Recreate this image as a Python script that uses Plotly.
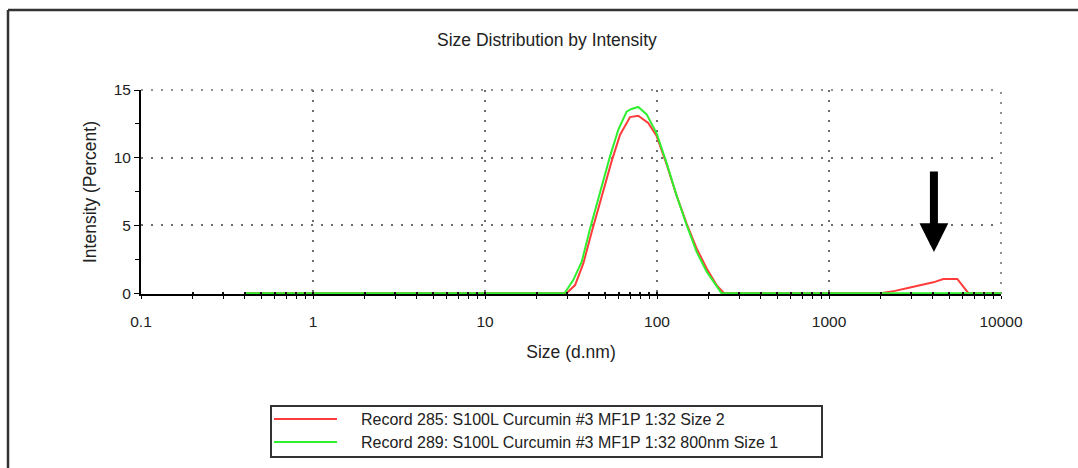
import plotly.graph_objects as go

# ---------------- data ----------------
red_name = "Record 285: S100L Curcumin #3 MF1P 1:32 Size 2"
green_name = "Record 289: S100L Curcumin #3 MF1P 1:32 800nm Size 1"

red_size = [0.4, 29.8, 33.4, 37.3, 41.7, 47.7, 54.5, 61.0, 69.7, 77.8, 88.9, 99.5,
            113.8, 130, 149, 170, 194.5, 222, 245, 2000, 2420, 2960, 4045, 4620,
            5570, 6460, 10000]
red_int = [0, 0, 0.6, 2.2, 4.5, 7.2, 9.75, 11.7, 13.0, 13.1, 12.56, 11.6,
           9.5, 7.2, 5.1, 3.3, 1.83, 0.6, 0, 0, 0.17, 0.42, 0.8, 1.05,
           1.05, 0, 0]

green_size = [0.4, 29.0, 32.6, 36.5, 40.8, 46.6, 53.3, 59.6, 66.6, 71.0, 77.8, 87.1,
              99.5, 113.8, 130, 149, 170, 194.5, 222, 237, 10000]
green_int = [0, 0, 0.97, 2.32, 4.75, 7.44, 10.1, 12.07, 13.4, 13.6, 13.75, 13.2,
             11.8, 9.6, 7.2, 5.0, 3.05, 1.59, 0.49, 0, 0]

x_tickvals = [0.1, 1, 10, 100, 1000, 10000]
x_ticktext = ["0.1", "1", "10", "100", "1000", "10000"]
y_tickvals = [0, 5, 10, 15]

# ---------------- layout helpers ----------------
W, H = 1078, 468
L, R, T, B = 141, 1001, 90, 294   # plot area in pixels


def px(x):
    return (x - L) / (R - L)


def py(y):
    return (B - y) / (B - T)


FONT = "Liberation Sans, Arial, sans-serif"
TXT = "#222222"
RED = "#ff3b3b"
GREEN = "#2ef02e"
GRID = "#6e6e6e"
GRID_DASH = "2px,8px"
TICK_FS = 15.5
TITLE_FS = 17.5
LEG_FS = 16

fig = go.Figure()
fig.add_trace(go.Scatter(x=red_size, y=red_int, mode="lines", name=red_name,
                         line=dict(color=RED, width=2), showlegend=False))
fig.add_trace(go.Scatter(x=green_size, y=green_int, mode="lines", name=green_name,
                         line=dict(color=GREEN, width=2), showlegend=False))
# empty trace so the overlaying tick-only axis is drawn
fig.add_trace(go.Scatter(x=[], y=[], xaxis="x2", mode="lines", showlegend=False,
                         hoverinfo="skip"))

fig.update_layout(
    width=W, height=H,
    margin=dict(l=L, r=W - R, t=T, b=H - B),
    paper_bgcolor="white", plot_bgcolor="white",
    font=dict(family=FONT, color=TXT, size=TICK_FS),
    showlegend=False,
)

fig.update_layout(
    xaxis=dict(
        type="log", range=[-1, 4],
        tickvals=x_tickvals, ticktext=x_ticktext,
        showline=True, linecolor="black", linewidth=2,
        ticks="outside", ticklen=3, tickcolor="black", tickwidth=1,
        ticklabelstandoff=9,
        tickfont=dict(size=TICK_FS, color=TXT),
        showgrid=True, gridcolor=GRID, gridwidth=1.5, griddash=GRID_DASH,
        minor=dict(ticks="outside", ticklen=3, tickcolor="black", dtick="D1", showgrid=False),
        zeroline=False, layer="below traces",
        title=dict(text="Size (d.nm)", font=dict(size=TITLE_FS, color=TXT), standoff=17),
    ),
    xaxis2=dict(
        type="log", range=[-1, 4], overlaying="x", side="bottom",
        tickvals=x_tickvals, showticklabels=False,
        showline=False, showgrid=False, zeroline=False,
        ticks="inside", ticklen=2, tickcolor="#111111", tickwidth=1.5,
        minor=dict(ticks="inside", ticklen=2, tickcolor="#111111", tickwidth=1.5,
                   dtick="D1", showgrid=False),
        layer="above traces",
    ),
    yaxis=dict(
        range=[-0.06, 15],
        tickvals=y_tickvals,
        showline=True, linecolor="black", linewidth=2,
        ticks="outside", ticklen=5, tickcolor="black", tickwidth=1,
        tickfont=dict(size=TICK_FS, color=TXT),
        showgrid=True, gridcolor=GRID, gridwidth=1.5, griddash=GRID_DASH,
        minor=dict(ticks="outside", ticklen=4, tickcolor="black", dtick=2.5, showgrid=False),
        zeroline=False, layer="below traces",
        title=dict(text="Intensity (Percent)", font=dict(size=TITLE_FS, color=TXT), standoff=13),
    ),
)

# title
fig.add_annotation(text="Size Distribution by Intensity", xref="paper", yref="paper",
                   x=px(547), y=py(40), showarrow=False, xanchor="center", yanchor="middle",
                   font=dict(size=TITLE_FS, color=TXT))

# arrow
fig.add_annotation(x=3.61, y=(B - 252) / ((B - T) / 15.06) - 0.06, xref="x", yref="y",
                   ax=0, ay=-82, axref="pixel", ayref="pixel", text="",
                   showarrow=True, arrowhead=2, arrowwidth=8, arrowsize=0.72,
                   arrowcolor="black")

shapes = [
    # gridlines on the top (15) and right (10000) edges of the plot area
    dict(type="line", xref="paper", yref="paper", x0=0, x1=1, y0=1, y1=1, layer="below",
         line=dict(color=GRID, width=1.5, dash=GRID_DASH)),
    dict(type="line", xref="paper", yref="paper", x0=1, x1=1, y0=0, y1=1, layer="below",
         line=dict(color=GRID, width=1.5, dash=GRID_DASH)),
    # outer frame (left and top edges)
    dict(type="line", xref="paper", yref="paper", x0=px(8), x1=px(8), y0=py(10), y1=py(470),
         line=dict(color="#333333", width=2.5)),
    dict(type="line", xref="paper", yref="paper", x0=px(8), x1=px(1080), y0=py(10), y1=py(10),
         line=dict(color="#333333", width=2.5)),
    # legend box
    dict(type="rect", xref="paper", yref="paper", x0=px(271), x1=px(822), y0=py(406), y1=py(457),
         line=dict(color="#333333", width=2), fillcolor="white"),
    dict(type="line", xref="paper", yref="paper", x0=px(274), x1=px(337), y0=py(419), y1=py(419),
         line=dict(color=RED, width=2)),
    dict(type="line", xref="paper", yref="paper", x0=px(274), x1=px(337), y0=py(442), y1=py(442),
         line=dict(color=GREEN, width=2)),
]
fig.update_layout(shapes=shapes)
for name, yy in [(red_name, 419), (green_name, 442)]:
    fig.add_annotation(text=name, xref="paper", yref="paper", x=px(359), y=py(yy),
                       showarrow=False, xanchor="left", yanchor="middle",
                       font=dict(size=LEG_FS, color=TXT))

fig.write_html("out.html")
